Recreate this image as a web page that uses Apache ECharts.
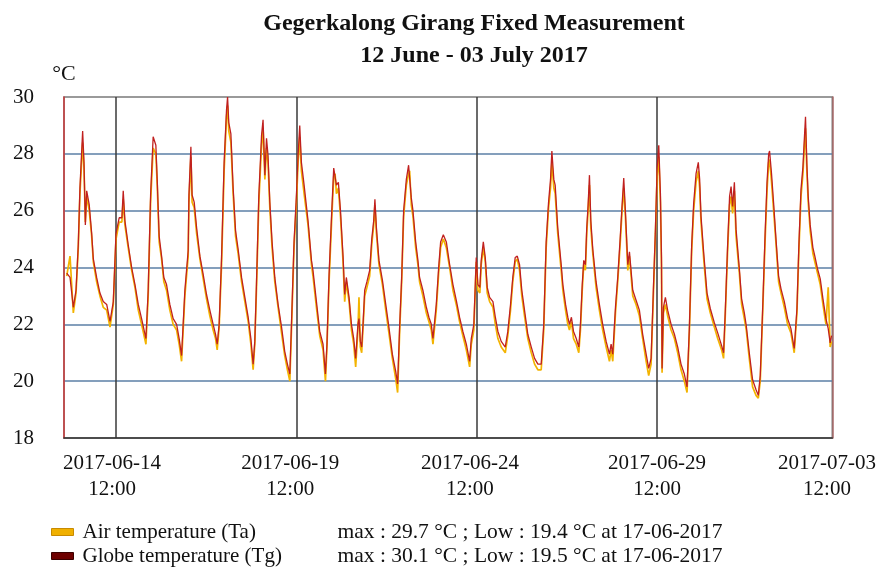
<!DOCTYPE html>
<html>
<head>
<meta charset="utf-8">
<title>Gegerkalong Girang Fixed Measurement</title>
<script src="https://cdn.jsdelivr.net/npm/echarts@6/dist/echarts.min.js"></script>
<style>
  html, body { margin: 0; padding: 0; background: #fff; }
  #chart { width: 879px; height: 568px; }
</style>
</head>
<body>
<div id="chart"></div>
<script>
// hours since the first plotted reading
var hours = [
  1.8, 4.0, 6.2, 8.0, 9.5, 10.6, 12.4, 13.3, 14.2, 15.1, 16.8, 18.4, 19.5, 21.7, 23.9, 26.1, 28.4, 30.6, 31.7, 32.8,
  34.6, 36.7, 38.5, 39.4, 40.5, 42.7, 45.0, 47.2, 49.4, 51.6, 54.5, 56.0, 57.6, 59.3, 61.1, 62.0, 63.3, 64.9, 66.4, 68.2,
  70.4, 72.6, 74.9, 76.6, 78.2, 80.4, 82.6, 83.1, 84.4, 85.2, 86.6, 88.2, 90.4, 92.6, 94.8, 97.0, 99.2, 100.8, 101.9, 103.2,
  104.8, 106.5, 108.1, 108.8, 109.6, 111.0, 112.5, 114.1, 115.8, 118.1, 120.3, 122.5, 124.3, 125.8, 126.9, 128.0, 129.6, 131.4, 132.4, 133.6,
  134.7, 135.7, 136.9, 138.4, 140.2, 142.4, 144.7, 146.8, 148.6, 150.2, 151.3, 153.0, 154.6, 155.7, 156.8, 157.9, 159.7, 162.3, 164.6, 165.6,
  167.9, 170.1, 172.3, 173.9, 174.9, 176.3, 177.9, 179.4, 180.3, 181.2, 182.5, 183.9, 185.6, 186.7, 187.8, 189.6, 191.2, 192.7, 194.0, 195.5,
  196.2, 197.1, 198.0, 198.9, 200.0, 201.5, 203.3, 204.7, 206.0, 206.8, 207.8, 209.5, 211.8, 214.0, 216.1, 218.4, 220.6, 221.9, 223.3, 224.6,
  225.9, 227.7, 229.2, 229.9, 231.0, 232.1, 233.9, 235.4, 236.5, 238.7, 241.0, 242.7, 244.3, 245.4, 247.6, 249.2, 250.5, 252.3, 254.3, 256.5,
  258.7, 260.9, 263.1, 265.3, 267.6, 269.8, 270.9, 272.6, 274.2, 275.3, 276.6, 277.5, 278.9, 280.2, 281.5, 283.1, 285.3, 286.9, 288.6, 290.8,
  293.5, 295.2, 297.0, 298.5, 300.1, 301.5, 303.0, 304.5, 306.3, 308.5, 310.8, 313.0, 315.2, 317.4, 319.1, 320.7, 322.3, 323.6, 324.5, 325.8,
  326.7, 328.4, 330.7, 331.8, 333.6, 335.1, 336.2, 337.5, 338.9, 340.7, 342.4, 343.5, 344.7, 345.7, 346.8, 347.7, 348.6, 349.5, 350.4, 351.7,
  353.9, 356.1, 358.3, 360.6, 362.8, 363.9, 365.0, 366.8, 368.3, 369.9, 371.2, 372.3, 373.4, 375.0, 376.1, 378.3, 380.5, 382.7, 384.9, 387.2,
  388.9, 390.5, 392.0, 393.4, 394.5, 395.6, 396.7, 397.4, 397.8, 398.7, 400.0, 401.5, 403.8, 406.0, 408.2, 410.4, 412.6, 414.4, 416.0, 417.5,
  418.8, 420.4, 421.9, 422.8, 423.7, 425.5, 427.7, 429.9, 432.6, 434.8, 437.4, 438.7, 439.9, 441.4, 442.7, 443.7, 444.7, 445.9, 447.0, 449.2,
  450.7, 452.5, 453.8, 455.8, 458.0, 460.3, 461.8, 463.1, 464.7, 466.3, 467.6, 468.7, 469.3, 470.6, 472.0, 473.5, 475.3, 476.9, 479.1, 481.3,
  483.5, 485.7, 487.5, 488.8, 490.2, 491.5, 492.4, 493.2, 494.1, 495.0, 496.3, 498.1, 499.4, 501.2, 503.0, 504.8, 506.8, 508.3, 509.6, 510.5
]

var airTemp = [
  23.7, 24.4, 22.4, 23.1, 24.7, 26.6, 28.4, 27.5, 25.6, 26.5, 26.0, 25.1, 24.2, 23.5, 23.0, 22.6, 22.5, 21.9, 21.9, 22.7,
  25.0, 25.6, 25.6, 26.4, 25.5, 24.7, 23.9, 23.3, 22.5, 22.0, 21.3, 23.0, 26.3, 28.2, 28.0, 26.9, 24.9, 24.3, 23.5, 23.2,
  22.5, 22.0, 21.8, 21.3, 20.7, 23.0, 24.4, 26.3, 27.9, 26.3, 26.1, 25.2, 24.3, 23.6, 22.9, 22.3, 21.8, 21.5, 21.1, 21.9,
  24.1, 27.4, 29.3, 29.7, 28.8, 28.4, 26.6, 25.1, 24.5, 23.5, 22.8, 22.1, 21.3, 20.4, 21.3, 23.2, 26.3, 28.3, 28.9, 27.1,
  28.2, 27.7, 26.1, 24.7, 23.5, 22.6, 21.7, 20.9, 20.4, 20.0, 21.8, 24.7, 26.3, 27.7, 28.6, 27.4, 26.6, 25.5, 24.1, 23.7,
  22.6, 21.6, 21.1, 20.0, 21.2, 23.5, 25.5, 27.2, 27.3, 26.6, 26.8, 25.8, 24.2, 22.8, 23.5, 22.8, 21.8, 21.3, 20.5, 21.8,
  22.95, 21.2, 21.0, 21.9, 23.0, 23.3, 23.7, 24.8, 25.5, 26.2, 25.2, 24.1, 23.4, 22.5, 21.7, 20.8, 20.1, 19.6, 21.8, 23.5,
  25.8, 26.9, 27.3, 27.4, 26.2, 25.8, 24.7, 24.1, 23.5, 23.0, 22.4, 22.1, 21.8, 21.3, 22.5, 23.8, 24.7, 25.0, 24.7, 24.0,
  23.2, 22.7, 22.1, 21.6, 21.1, 20.5, 21.3, 21.8, 24.2, 23.2, 23.1, 24.1, 24.7, 24.2, 23.1, 22.8, 22.6, 22.0, 21.5, 21.2,
  21.0, 21.6, 22.5, 23.5, 24.2, 24.3, 23.9, 23.0, 22.3, 21.5, 21.0, 20.6, 20.4, 20.4, 21.8, 24.7, 26.1, 26.8, 27.7, 26.8,
  26.6, 25.2, 23.9, 23.2, 22.5, 22.0, 21.8, 22.1, 21.5, 21.3, 21.0, 21.8, 23.2, 24.1, 23.9, 25.2, 26.0, 26.9, 25.4, 24.5,
  23.3, 22.5, 21.8, 21.2, 20.7, 21.1, 20.7, 22.4, 23.5, 24.8, 26.0, 26.8, 25.8, 23.9, 24.4, 23.0, 22.7, 22.3, 21.5, 20.7,
  20.2, 20.6, 23.0, 25.2, 27.2, 27.9, 26.3, 24.1, 20.3, 22.4, 22.7, 22.3, 21.8, 21.5, 21.0, 20.4, 20.0, 19.6, 21.8, 24.6,
  26.0, 27.0, 27.4, 26.8, 25.6, 24.3, 22.9, 22.4, 21.9, 21.5, 21.1, 20.8, 22.4, 24.6, 26.2, 26.5, 25.9, 26.7, 25.1, 23.8,
  22.7, 22.2, 21.8, 20.8, 19.8, 19.5, 19.4, 20.0, 22.4, 24.9, 26.7, 27.7, 27.8, 27.0, 26.0, 24.9, 23.5, 23.1, 22.6, 22.0,
  21.7, 21.0, 22.4, 24.6, 26.5, 27.3, 28.2, 28.9, 27.4, 26.3, 25.3, 24.5, 24.2, 23.8, 23.4, 22.7, 22.0, 23.3, 21.2, 21.4
]

var globeTemp = [
  23.8, 23.65, 22.6, 23.2, 24.8, 26.8, 28.8, 27.7, 25.5, 26.7, 26.2, 25.2, 24.3, 23.65, 23.1, 22.8, 22.7, 22.1, 22.05, 22.8,
  25.2, 25.75, 25.75, 26.7, 25.65, 24.8, 24.0, 23.4, 22.7, 22.2, 21.5, 23.2, 26.55, 28.6, 28.3, 27.1, 25.1, 24.4, 23.65, 23.4,
  22.7, 22.2, 22.0, 21.5, 20.9, 23.2, 24.6, 26.55, 28.25, 26.55, 26.3, 25.4, 24.4, 23.75, 23.05, 22.5, 22.0, 21.65, 21.3, 22.0,
  24.35, 27.7, 29.55, 30.0, 29.1, 28.7, 26.8, 25.3, 24.65, 23.65, 22.95, 22.25, 21.5, 20.6, 21.4, 23.4, 26.55, 28.65, 29.2, 27.25,
  28.55, 27.95, 26.3, 24.9, 23.65, 22.7, 21.9, 21.05, 20.6, 20.25, 22.0, 24.9, 26.55, 27.95, 29.0, 27.7, 26.9, 25.65, 24.25, 23.9,
  22.8, 21.75, 21.3, 20.25, 21.3, 23.75, 25.75, 27.5, 27.55, 26.9, 27.0, 26.0, 24.4, 23.05, 23.65, 22.95, 22.0, 21.5, 20.8, 22.0,
  22.2, 21.4, 21.2, 22.0, 23.2, 23.5, 23.9, 25.0, 25.65, 26.4, 25.4, 24.25, 23.55, 22.7, 21.9, 20.95, 20.35, 19.9, 22.0, 23.65,
  26.0, 27.1, 27.6, 27.65, 26.45, 26.0, 24.9, 24.25, 23.65, 23.2, 22.6, 22.25, 22.0, 21.5, 22.7, 24.0, 24.9, 25.15, 24.9, 24.1,
  23.4, 22.85, 22.25, 21.75, 21.3, 20.7, 21.5, 22.0, 24.35, 23.4, 23.3, 24.25, 24.9, 24.35, 23.3, 22.95, 22.8, 22.25, 21.75, 21.4,
  21.2, 21.75, 22.7, 23.65, 24.35, 24.4, 24.1, 23.2, 22.5, 21.65, 21.2, 20.8, 20.6, 20.6, 22.0, 24.9, 26.3, 27.1, 28.1, 27.1,
  26.9, 25.4, 24.1, 23.4, 22.7, 22.25, 22.0, 22.25, 21.75, 21.5, 21.2, 22.0, 23.4, 24.25, 24.1, 25.4, 26.2, 27.25, 25.65, 24.65,
  23.5, 22.7, 22.0, 21.4, 20.95, 21.3, 20.95, 22.6, 23.65, 25.0, 26.2, 27.15, 26.0, 24.1, 24.55, 23.2, 22.85, 22.5, 21.65, 20.95,
  20.45, 20.8, 23.2, 25.4, 27.5, 28.3, 26.6, 24.35, 20.45, 22.6, 22.95, 22.5, 22.0, 21.65, 21.2, 20.6, 20.25, 19.8, 21.95, 24.8,
  26.25, 27.3, 27.7, 27.1, 25.8, 24.5, 23.1, 22.55, 22.05, 21.7, 21.25, 21.0, 22.55, 24.8, 26.5, 26.85, 26.15, 27.0, 25.35, 23.95,
  22.9, 22.4, 21.95, 21.0, 20.05, 19.7, 19.5, 20.2, 22.55, 25.15, 27.0, 28.0, 28.1, 27.3, 26.25, 25.05, 23.7, 23.25, 22.8, 22.2,
  21.85, 21.15, 22.55, 24.8, 26.75, 27.55, 28.5, 29.3, 27.65, 26.5, 25.5, 24.7, 24.4, 23.95, 23.6, 22.9, 22.2, 21.85, 21.35, 21.6
]

// vertical grid lines and where the date labels sit
var tickHours = [34.5, 154.5, 274.5, 394.5]
var labelHours = [32, 150.5, 270, 394.5, 507.5]
var labelDates = ['2017-06-14', '2017-06-19', '2017-06-24', '2017-06-29', '2017-07-03']
var labelTime = '12:00'

var seriesNames = ['Air temperature (Ta)', 'Globe temperature (Tg)']
var maxValues = ['29.7', '30.1']
var lowValues = ['19.4', '19.5']
var lowDates = ['17-06-2017', '17-06-2017']

var serif = 'Liberation Serif, Times New Roman, serif'

function pairs(xs, ys) {
  var out = []
  for (var i = 0; i < xs.length; i++) {
    out.push([xs[i], ys[i]])
  }
  return out
}

var myChart = echarts.init(document.getElementById('chart'))
var option = {
  backgroundColor: '#fff',
  animation: false,
  title: {
    text: 'Gegerkalong Girang Fixed Measurement\n12 June - 03 July 2017',
    left: 469,
    top: 3,
    textAlign: 'center',
    textStyle: {
      fontFamily: serif,
      fontWeight: 'bold',
      fontSize: 24,
      lineHeight: 32,
      color: '#111'
    }
  },
  legend: {
    orient: 'vertical',
    left: 51,
    top: 520,
    padding: 0,
    itemWidth: 22,
    itemHeight: 7,
    itemGap: 0,
    icon: 'rect',
    data: [
      { name: seriesNames[0], itemStyle: { color: '#f0b000', borderColor: '#c88a00', borderWidth: 1 } },
      { name: seriesNames[1], itemStyle: { color: '#6e0000', borderColor: '#3a0000', borderWidth: 1 } }
    ],
    formatter: function (name) {
      var i = seriesNames.indexOf(name)
      return '{n|' + name + '}{s|max : ' + maxValues[i] + ' °C ; Low : ' + lowValues[i] + ' °C at ' + lowDates[i] + '}'
    },
    textStyle: {
      fontFamily: serif,
      fontSize: 21,
      lineHeight: 24,
      color: '#111',
      rich: {
        n: { fontFamily: serif, fontSize: 21, lineHeight: 24, color: '#111', width: 255, padding: [0, 0, 0, 4] },
        s: { fontFamily: serif, fontSize: 21.5, lineHeight: 24, color: '#111' }
      }
    }
  },
  grid: {
    left: 64,
    right: 46,
    top: 97,
    bottom: 130,
    show: true,
    borderColor: '#7a7a7a',
    borderWidth: 1.5
  },
  xAxis: {
    type: 'value',
    min: 0,
    max: 511,
    axisLine: { show: true, lineStyle: { color: '#333', width: 1.5 } },
    axisTick: { show: false, customValues: tickHours },
    splitLine: { show: true, lineStyle: { color: '#3a3a3a', width: 1.5 } },
    axisLabel: {
      customValues: labelHours,
      margin: 12,
      fontFamily: serif,
      fontSize: 21,
      lineHeight: 26,
      color: '#111',
      formatter: function (value) {
        var i = labelHours.findIndex(function (h) { return Math.abs(h - value) < 0.01 })
        return i < 0 ? '' : labelDates[i] + '\n' + labelTime
      }
    }
  },
  yAxis: [
    {
      type: 'value',
      min: 18,
      max: 30,
      interval: 2,
      name: '°C',
      nameLocation: 'end',
      nameGap: 12,
      nameTextStyle: { fontFamily: serif, fontSize: 22, color: '#111', align: 'center' },
      axisLine: { show: true, lineStyle: { color: '#c8383a', width: 1.5 } },
      axisTick: { show: false },
      axisLabel: { margin: 30, fontFamily: serif, fontSize: 21, color: '#111' },
      splitLine: {
        show: true,
        showMinLine: false,
        showMaxLine: false,
        lineStyle: { color: '#5b7fa6', width: 1.5 }
      }
    },
    {
      type: 'value',
      min: 18,
      max: 30,
      interval: 2,
      position: 'right',
      axisLine: { show: true, lineStyle: { color: '#a86868', width: 1.5 } },
      axisTick: { show: false },
      axisLabel: { show: false },
      splitLine: { show: false }
    }
  ],
  series: [
    {
      name: seriesNames[0],
      type: 'line',
      symbol: 'none',
      data: pairs(hours, airTemp),
      lineStyle: { color: '#f3b300', width: 1.7 },
      itemStyle: { color: '#f0b000' },
      z: 3
    },
    {
      name: seriesNames[1],
      type: 'line',
      symbol: 'none',
      data: pairs(hours, globeTemp),
      lineStyle: { color: '#c0201f', width: 1.3 },
      itemStyle: { color: '#6e0000' },
      z: 4
    }
  ]
}
myChart.setOption(option)
</script>
</body>
</html>
